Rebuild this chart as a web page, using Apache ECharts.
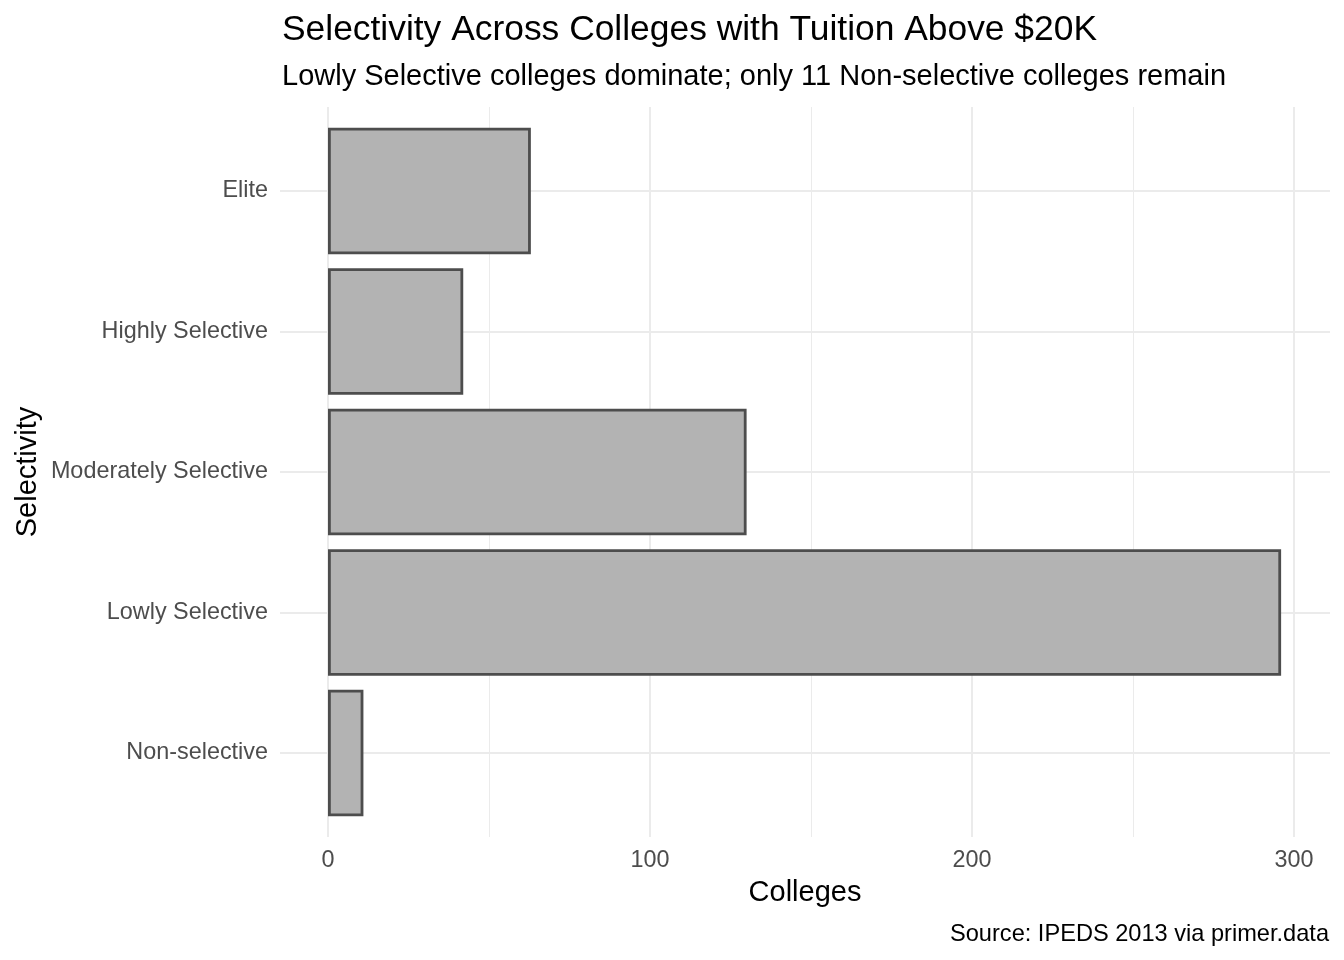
<!DOCTYPE html>
<html>
<head>
<meta charset="utf-8">
<script src="https://cdn.jsdelivr.net/npm/echarts@6/dist/echarts.min.js"></script>
<style>
html,body{margin:0;padding:0;background:#fff;}
#chart{width:1344px;height:960px;}
</style>
</head>
<body>
<div id="chart"></div>
<script>
const categories = ['Elite', 'Highly Selective', 'Moderately Selective', 'Lowly Selective', 'Non-selective'];
const colleges = [63, 42, 130, 296, 11];
const xTicks = [0, 100, 200, 300];

const FONT = '"Liberation Sans", Arial, Helvetica, sans-serif';
const chart = echarts.init(document.getElementById('chart'), null, {renderer: 'canvas'});

const option = {
  backgroundColor: '#ffffff',
  animation: false,
  textStyle: {fontFamily: FONT},
  grid: [
    {left: 328, right: 50, top: 107, bottom: 123, containLabel: false},
    {left: 280, right: 14, top: 191, bottom: 207, containLabel: false}
  ],
  xAxis: [
    {
      type: 'value', gridIndex: 0,
      min: xTicks[0], max: xTicks[xTicks.length - 1], interval: 100,
      axisLine: {show: false}, axisTick: {show: false},
      axisLabel: {color: '#4D4D4D', fontSize: 23.4, fontFamily: FONT, margin: 12},
      splitLine: {show: true, lineStyle: {color: '#EBEBEB', width: 2}},
      minorTick: {show: false, splitNumber: 2},
      minorSplitLine: {show: true, lineStyle: {color: '#EBEBEB', width: 1}}
    },
    {
      type: 'value', gridIndex: 1,
      min: -14.907, max: 311.18,
      show: false
    }
  ],
  yAxis: [
    {type: 'value', gridIndex: 0, show: false, min: 0, max: 1},
    {
      type: 'category', gridIndex: 1, data: categories, inverse: true, boundaryGap: false,
      axisLine: {show: false}, axisTick: {show: false},
      axisLabel: {color: '#4D4D4D', fontSize: 23.4, fontFamily: FONT, margin: 12, verticalAlign: 'middle', lineHeight: 23.4, padding: [5, 0, 0, 0]},
      splitLine: {show: true, lineStyle: {color: '#EBEBEB', width: 2}}
    }
  ],
  series: [{
    type: 'bar',
    xAxisIndex: 1, yAxisIndex: 1,
    data: colleges,
    clip: false,
    barWidth: 126.5,
    itemStyle: {color: '#B3B3B3', borderColor: '#4D4D4D', borderWidth: 2.8}
  }],
  graphic: [
    {type: 'text', left: 282, top: 13, style: {text: 'Selectivity Across Colleges with Tuition Above $20K', font: '35.4px ' + FONT, fill: '#000'}},
    {type: 'text', left: 282, top: 62, style: {text: 'Lowly Selective colleges dominate; only 11 Non-selective colleges remain', font: '29px ' + FONT, fill: '#000'}},
    {type: 'text', x: 805, y: 893, style: {text: 'Colleges', font: '29px ' + FONT, fill: '#000', align: 'center', verticalAlign: 'middle'}},
    {type: 'text', x: 28, y: 472, rotation: Math.PI / 2, style: {text: 'Selectivity', font: '29px ' + FONT, fill: '#000', align: 'center', verticalAlign: 'middle'}},
    {type: 'text', x: 1329, y: 934, style: {text: 'Source: IPEDS 2013 via primer.data', font: '23.6px ' + FONT, fill: '#000', align: 'right', verticalAlign: 'middle'}}
  ]
};
chart.setOption(option);
</script>
</body>
</html>
